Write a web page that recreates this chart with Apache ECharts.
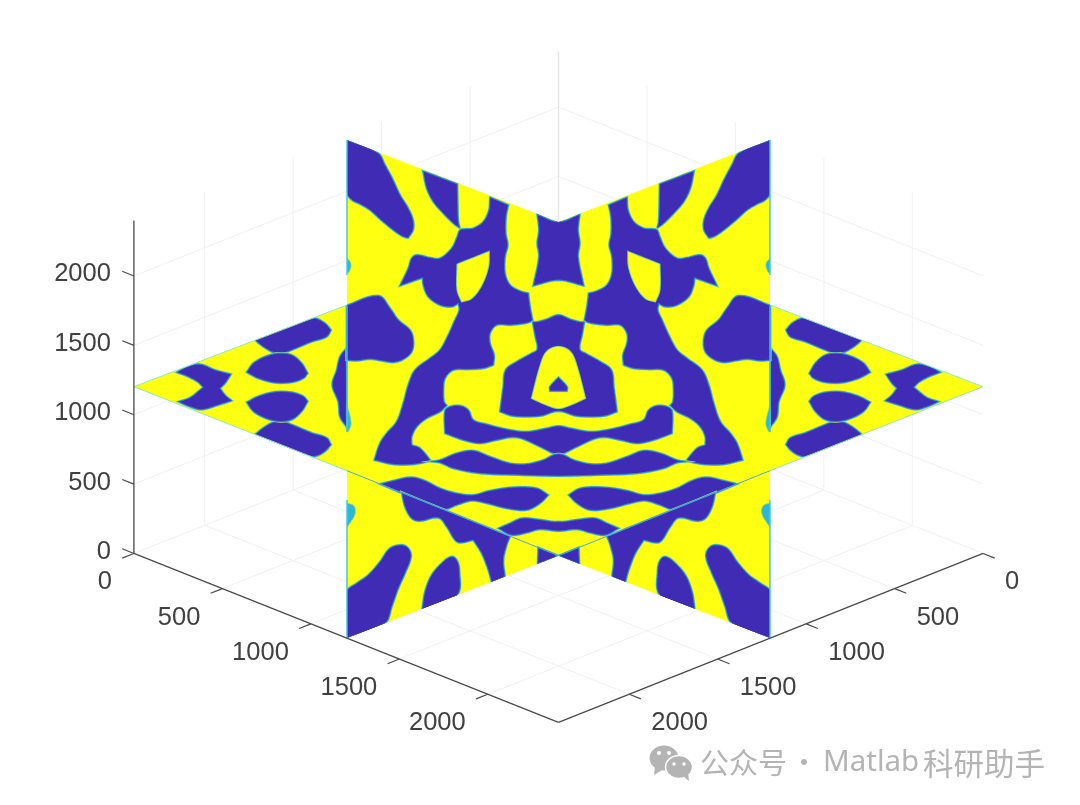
<!DOCTYPE html>
<html><head><meta charset="utf-8">
<style>html,body{margin:0;padding:0;background:#fff}#c{width:1080px;height:805px}</style>
<script src="https://cdn.jsdelivr.net/npm/echarts@6/dist/echarts.min.js"></script>
</head><body><div id="c"></div>
<script>
// axis values
const axisLimit = 2400;
const tickValues = [0, 500, 1000, 1500, 2000];
const zTickValues = [0, 500, 1000, 1500, 2000];

// outlines, in the view plane of the 3-D projection
const silhouette = [[347,140],[558.5,222],[770,140],[770,305],[983,386.7],[770,470.7],[770,638],[558.5,555.7],[347,638],[347,470.7],[134,386.7],[347,305]];

// left half, mirrored across the vertical symmetry line of the view
const wingBlob = [[347,140],[378,153],[385,165],[393,180],[400,195],[408,208],[413,220],[413,230],[408,238],[402,236],[392,229],[380,219],[370,210],[360,204],[352,200],[347,193]];
const wingFinger = [[423,171],[457.3,184],[457.7,206.7],[458.3,221.7],[459.8,228],[453.3,223.3],[443.3,213.3],[433.3,201.7],[426.7,188.3]];
const webBody = [[490,197.3],[508.3,205],[506,216.7],[505.7,233.3],[507.7,245],[505,256.7],[505,273.3],[510,285],[520,291],[528.3,293.3],[530,306.7],[532.7,321],
 [525,323.3],[510,325],[496.7,325],[490,333.3],[490,343.3],[494,355],[493.3,365],[483.3,368.3],[468.3,369.3],[453.3,370],[445,378.3],[443.3,390],[444,401.7],[446.7,405.5],
 [440,411.7],[426.7,418.3],[416.7,426.7],[411.7,436.7],[411.7,445],[420,448.3],[431,461],[413.3,464.3],[393.3,464.3],[374.3,460],[380,443.3],[386.7,433.3],[396.7,421.7],[403.3,403.3],[408.3,385],[415,370],[430,358.3],[440,350],[448.3,335],[455,320],[459.3,310],
 [458.3,303.3],[451.7,306.7],[440,305],[428.3,296.7],[423.3,285],[422.7,277.7],[400,285.7],[408.3,268.3],[411.7,258.3],[416.7,255],[430,257.7],[440,258.3],[451.7,248.3],[457.3,236.7],[460,230],[465,229],[473.3,228.3],[483.3,221.7],[489,210]];
const webIsland = [[457.3,264.3],[489,251.7],[488.3,266.7],[481.7,285],[471.7,298.3],[461.7,301.7],[457.3,290]];
const upperBlob = [[346.7,305.5],[378.3,295.7],[390,308.3],[398.3,320],[410,330],[413.3,340],[411.7,351.7],[403.3,359.3],[393.3,362.3],[381.7,360.7],[370,359],[356.7,360.7],[346.7,360]];
const lensLower = [[380,484],[393.3,480.7],[410,477.3],[423.3,480],[440,488.3],[456.7,493.3],[473.3,495],[490,490.7],[513.3,487.3],[536.7,488.3],[548.3,495],[540,503.3],[526.7,510],[506.7,508.3],[486.7,503.3],[471.7,500.7],[456.7,505],[443.3,509]];
const frontBranch = [[401.7,492.5],[405,506.7],[411.7,518.3],[420,521],[438.3,517.7],[446.7,526.7],[455,540],[460,542.7],[473.3,540],[481.7,553.3],[488.3,570],[491.7,582.3],[505,576.7],[503.3,560],[506.7,545],[510,536.5]];
const lowerBlob = [[346.7,591.7],[356.7,583.3],[368.3,575],[380,561.7],[390,548.3],[401.7,545],[408.3,548.3],[411,556.7],[405,573.3],[398.3,588.3],[391.7,606.7],[385,623.3],[347,638]];
const lowerFinger = [[422.3,609],[425,591.7],[431.7,575],[443.3,561.7],[451.7,556.7],[456.7,560],[459.3,570],[456.7,595.7]];
const lowerWedge = [[538.3,547.5],[537.7,564],[558.5,555.7]];
const sideDome = [[346.3,348.3],[340,356.7],[336.7,370],[332.3,385],[338.3,401.7],[340,416.7],[346.3,426.7]];
const sideBar = [[255,340],[273.3,331.7],[305,320],[315,318.3],[325,323.3],[331,330],[326.7,336.7],[311.7,341.7],[291.7,350],[281.7,353.3],[273.3,352.3],[263.3,346.7]];
const sideLens = [[246.7,372.3],[253.3,363.3],[265,356.7],[278.3,353.3],[291.7,355],[301.7,363.3],[307.7,373.3],[303.3,378.3],[291.7,382.3],[275,382.7],[258.3,378.3]];
const sideButterfly = [[176.7,372.3],[186.7,367],[200,364.3],[215,370],[231,374.3],[225,383.3],[220,388.3],[225,395],[231.7,400.7],[218.3,405],[201.7,409.5],[190,406.7],[178.3,401.7],[190,397.7],[200,390],[203.3,387.3],[198.3,382.3],[188.3,376.7]];

// half outlines that close across the symmetry line
const centerCross = [[558.5,222],[537.3,214.5],[539,230],[537.3,243.3],[539,256.7],[533.3,285.7],[558.5,280]];
const ringOuter = [[558.5,315],[546.7,319.3],[536.7,322],[532.7,322],[535,335],[537.3,349.3],[531.7,353.3],[516.7,361.7],[505.7,370],[503.3,386.7],[500,411.7],[513.3,416],[540,416],[558.5,411]];
const ringHole = [[558.5,346.7],[546.7,351.7],[540,366.7],[531.7,398.3],[546.7,405],[558.5,408.3]];
const ringCore = [[558.5,377.3],[550,386.7],[550,391],[558.5,391]];
const bandUpper = [[558.5,426],[546.7,428.3],[526.7,431.7],[506.7,429.3],[486.7,424.3],[473.3,420],[468.3,410],[460,405.7],[450,406.7],[445,410.7],[445,433.3],[463.3,440],[480,443.3],[496.7,440],[516.7,437.3],[540,446.7],[553.3,453.3],[558.5,454]];
const bandMiddle = [[558.5,454],[553.3,455],[543.3,460],[526.7,464],[510,463.3],[490,456.7],[473.3,450.7],[456.7,453.3],[440,460],[431,461.5],[440,462.7],[453.3,468.3],[480,473.3],[520,475],[558.5,476]];
const bandLower = [[558.5,521.7],[553.3,521.7],[536.7,519.3],[521.7,518.3],[510,523.3],[498.3,528.3],[511.7,535],[526.7,532.7],[540,529.3],[558.5,531]];

// teal patches where the slices fade at the side edges
const edgePatches = [[[347,258],[351,264],[349,272],[347,273]],[[347,405],[350,416],[351,425],[348,432],[347,432]],[[347,503],[354,506],[355,514],[350,523],[347,527]]];

// watermark
const wmTexts = ['公众号', '·', 'Matlab', '科研助手'];

const MID = 558.5, VMID = 387.3;
const mx = p => p.map(([x, y]) => [2 * MID - x, y]);
const my = p => p.map(([x, y]) => [x, 2 * VMID - y]);
const sym = p => p.concat(mx(p).reverse().slice(1, -1));

// projection of volume coordinates (a along left axis, b along right axis, z up)
const proj = (a, b, z) => [MID + (a - b) * 0.17692, 384.5 + (a + b) * 0.0704 - z * 0.13875];

// rounds an outline through its vertices, leaving sharp corners sharp
const rounded = pts => {
  const n = pts.length, out = [];
  const unit = (p, q) => { const dx = q[0]-p[0], dy = q[1]-p[1], l = Math.hypot(dx, dy) || 1; return [dx/l, dy/l]; };
  const tan = pts.map((p, i) => {
    const a = unit(pts[(i+n-1)%n], p), b = unit(p, pts[(i+1)%n]);
    const dot = a[0]*b[0] + a[1]*b[1];
    if (dot < 0.42) return null;
    return unit(pts[(i+n-1)%n], pts[(i+1)%n]);
  });
  for (let i = 0; i < n; i++) {
    const p = pts[i], q = pts[(i+1)%n], l = Math.hypot(q[0]-p[0], q[1]-p[1]);
    const d = unit(p, q), t0 = tan[i] || d, t1 = tan[(i+1)%n] || d;
    for (let s = 0; s < 6; s++) {
      const t = s/6, t2 = t*t, t3 = t2*t;
      const h00 = 2*t3-3*t2+1, h10 = t3-2*t2+t, h01 = -2*t3+3*t2, h11 = t3-t2;
      out.push([h00*p[0]+h10*l*t0[0]+h01*q[0]+h11*l*t1[0], h00*p[1]+h10*l*t0[1]+h01*q[1]+h11*l*t1[1]]);
    }
  }
  return out;
};

const BLUE = '#402cb4', YELLOW = '#ffff12';
const marks = [];
const seg = (p, q, color, w) => marks.push({ k: 'line', pts: [p, q], color, w });
// ---- grid
const gridC = '#f1f1f1';
tickValues.slice(1).forEach(v => {
  seg(proj(v, 0, 0), proj(v, axisLimit, 0), gridC, 1);
  seg(proj(0, v, 0), proj(axisLimit, v, 0), gridC, 1);
  seg(proj(v, 0, 0), proj(v, 0, axisLimit), gridC, 1);
  seg(proj(0, v, 0), proj(0, v, axisLimit), gridC, 1);
});
zTickValues.slice(1).forEach(v => {
  seg(proj(0, 0, v), proj(axisLimit, 0, v), gridC, 1);
  seg(proj(0, 0, v), proj(0, axisLimit, v), gridC, 1);
});
seg(proj(0, 0, 0), proj(0, 0, axisLimit), '#e6e6e6', 1.4);
seg(proj(0, 0, 0), proj(axisLimit, 0, 0), gridC, 1);
seg(proj(0, 0, 0), proj(0, axisLimit, 0), gridC, 1);
// ---- slices
marks.push({ k: 'base', pts: silhouette });
const blue = p => marks.push({ k: 'blue', pts: p });
const leftShapes = [sideDome, sideBar, my(sideBar), sideLens, my(sideLens), sideButterfly,
  wingBlob, wingFinger, webBody, upperBlob, lensLower, frontBranch, lowerBlob, lowerFinger];
leftShapes.forEach(p => { blue(p); blue(mx(p)); });
[centerCross, ringOuter, bandUpper, bandMiddle, bandLower].forEach(p => blue(sym(p)));
blue(lowerWedge); blue(mx(lowerWedge));
[webIsland, mx(webIsland), sym(ringHole)].forEach(p => marks.push({ k: 'isle', pts: p }));
blue(sym(ringCore));
edgePatches.forEach(p => { marks.push({ k: 'patch', pts: p }); marks.push({ k: 'patch', pts: mx(p) }); });
// thin seams along slice edges
const seamC = '#38c4e0';
[[[347,140],[347,275]], [[347,306],[347,432]], [[347,500],[347,638]]].forEach(([p, q]) => {
  seg(p, q, seamC, 1.4); seg([2*MID-p[0], p[1]], [2*MID-q[0], q[1]], seamC, 1.4);
});
[[[134,386.7],[347,305]], [[134,386.7],[347,470.7]]].forEach(([p, q]) => {
  seg(p, q, '#8fe8c0', 1); seg([2*MID-p[0], p[1]], [2*MID-q[0], q[1]], '#8fe8c0', 1);
});
seg([347,470.7], [558.5,555.7], '#48a8e8', 1); seg([770,470.7], [558.5,555.7], '#48a8e8', 1);
// ---- axes
const axC = '#4a4a4a', tk = 66;
seg(proj(0, axisLimit, 0), proj(axisLimit, axisLimit, 0), axC, 1.3);
seg(proj(axisLimit, 0, 0), proj(axisLimit, axisLimit, 0), axC, 1.3);
seg(proj(0, axisLimit, 0), proj(0, axisLimit, axisLimit), axC, 1.3);
const txt = (p, s, align, dx, dy) => marks.push({ k: 'text', p, s: String(s), align, dx, dy });
tickValues.forEach(v => {
  seg(proj(v, axisLimit, 0), proj(v, axisLimit + tk, 0), axC, 1.2);
  seg(proj(axisLimit, v, 0), proj(axisLimit + tk, v, 0), axC, 1.2);
  txt(proj(v, axisLimit, 0), v, 'right', -22, 29);
  txt(proj(axisLimit, v, 0), v, 'left', 22, 29);
});
zTickValues.forEach(v => {
  seg(proj(0, axisLimit, v), proj(-tk, axisLimit, v), axC, 1.2);
  txt(proj(0, axisLimit, v), v, 'right', -23, -1.5);
});

const solid = (shape, style, clip) => {
  const o = { type: 'polygon', shape, style };
  if (clip) o.clipPath = { type: 'polygon', shape: { points: clip } };
  return o;
};
const renderItem = (params, api) => {
  const m = marks[api.value(0)];
  const c = p => api.coord(p);
  if (m.k === 'line') {
    const pts = m.pts.map(c);
    return { type: 'line', shape: { x1: pts[0][0], y1: pts[0][1], x2: pts[1][0], y2: pts[1][1] }, style: { stroke: m.color, lineWidth: m.w, fill: null } };
  }
  if (m.k === 'text') {
    const q = c(m.p);
    return { type: 'text', style: { x: q[0] + m.dx, y: q[1] + m.dy, text: m.s, fill: '#404040', font: '25.5px "Liberation Sans"', align: m.align, verticalAlign: 'middle' } };
  }
  const pts = m.pts.map(c);
  const clipPts = silhouette.map(c);
  if (m.k === 'base') return solid({ points: pts }, { fill: YELLOW, stroke: null });
  if (m.k === 'patch') return solid({ points: rounded(pts) }, { fill: '#2cb6d8', stroke: '#8fd478', lineWidth: 0.8 }, clipPts);
  const shape = { points: rounded(pts) };
  if (m.k === 'isle') return { type: 'group', children: [
    solid(shape, { fill: '#2fb4e0', stroke: '#2fb4e0', lineWidth: 1.8 }),
    solid(shape, { fill: YELLOW, stroke: '#d8e040', lineWidth: 0.6 })
  ] };
  return { type: 'group', children: [
    solid(shape, { fill: BLUE, stroke: '#b8e050', lineWidth: 2.6 }, clipPts),
    solid(shape, { fill: BLUE, stroke: '#30c4c8', lineWidth: 1.8 }, clipPts),
    solid(shape, { fill: BLUE, stroke: '#3a78e4', lineWidth: 0.8 }, clipPts)
  ] };
};

const grey = '#b4b4b4', cjk = '"Noto Sans CJK SC"';
const chart = echarts.init(document.getElementById('c'), null, { renderer: 'canvas' });
chart.setOption({
  animation: false,
  backgroundColor: '#fff',
  grid: { left: 0, right: 0, top: 0, bottom: 0 },
  xAxis: { type: 'value', min: 0, max: 1080, show: false },
  yAxis: { type: 'value', min: 0, max: 805, inverse: true, show: false },
  series: [{ type: 'custom', coordinateSystem: 'cartesian2d', clip: false, silent: true,
    encode: { x: 0, y: 0 }, data: marks.map((_, i) => [i]), renderItem }],
  graphic: { elements: [
    { type: 'ellipse', shape: { cx: 664, cy: 758, rx: 14.5, ry: 12.5 }, style: { fill: grey } },
    { type: 'polygon', shape: { points: [[655,766],[654,775],[664,769]] }, style: { fill: grey } },
    { type: 'ellipse', shape: { cx: 679, cy: 767, rx: 13.5, ry: 11.5 }, style: { fill: grey, stroke: '#fff', lineWidth: 1.5 } },
    { type: 'polygon', shape: { points: [[683,776],[689,781],[688,773]] }, style: { fill: grey } },
    { type: 'circle', shape: { cx: 659, cy: 753, r: 2 }, style: { fill: '#fff' } },
    { type: 'circle', shape: { cx: 669, cy: 753, r: 2 }, style: { fill: '#fff' } },
    { type: 'circle', shape: { cx: 674, cy: 764, r: 1.7 }, style: { fill: '#fff' } },
    { type: 'circle', shape: { cx: 684, cy: 764, r: 1.7 }, style: { fill: '#fff' } },
    { type: 'text', style: { x: 700, y: 763, text: wmTexts[0], fill: grey, font: '29px ' + cjk, verticalAlign: 'middle' } },
    { type: 'text', style: { x: 804, y: 762, text: wmTexts[1], fill: grey, font: '28px ' + cjk, verticalAlign: 'middle', align: 'center' } },
    { type: 'text', style: { x: 823, y: 763, text: wmTexts[2], fill: grey, font: '29.5px "Noto Sans"', verticalAlign: 'middle' } },
    { type: 'text', style: { x: 923, y: 763, text: wmTexts[3], fill: grey, font: '30.5px ' + cjk, verticalAlign: 'middle' } }
  ] }
});
</script></body></html>
